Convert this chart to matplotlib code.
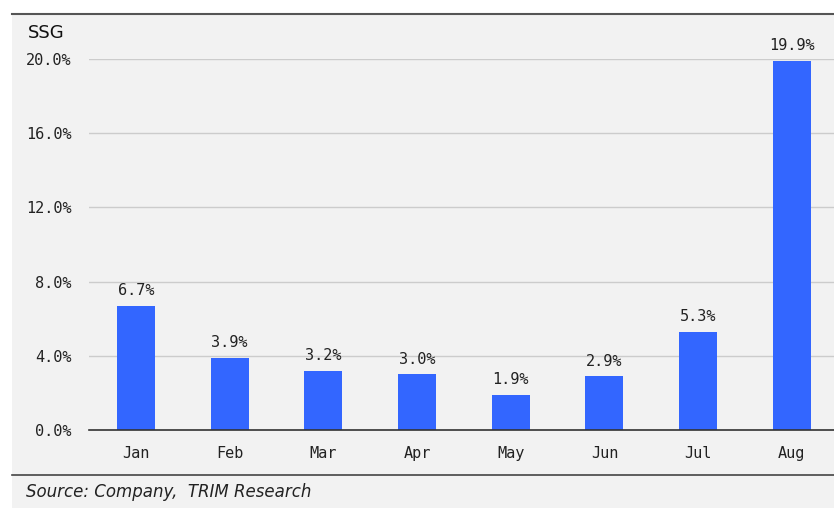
import matplotlib
matplotlib.use("Agg")
import matplotlib.pyplot as plt
import matplotlib.patches as phs
import matplotlib.lines as lin

months = ["Jan", "Feb", "Mar", "Apr", "May", "Jun", "Jul", "Aug"]
ssg = [6.7, 3.9, 3.2, 3.0, 1.9, 2.9, 5.3, 19.9]
yticks = [0, 4, 8, 12, 16, 20]

W, H = 834, 508
fig = plt.figure(figsize=(W/100, H/100), dpi=100)
fig.patch.set_facecolor("white")

# gray panel + frame lines
panel = phs.Rectangle((12/W, 0), 1 - 12/W, (H-14)/H, transform=fig.transFigure,
                      facecolor="#f2f2f2", edgecolor="none", zorder=-10)
fig.patches.append(panel)
fig.lines.append(lin.Line2D([12/W, 1], [(H-14)/H, (H-14)/H], transform=fig.transFigure, color="#555555", lw=1.5))
fig.lines.append(lin.Line2D([12/W, 1], [(H-475)/H, (H-475)/H], transform=fig.transFigure, color="#444444", lw=1.2))

ax = fig.add_axes([89/W, (H-430)/H, 1 - 89/W, (430-59)/H])
ax.set_zorder(5)
ax.set_facecolor("none")
x = list(range(len(months)))
ax.bar(x, ssg, width=0.405, color="#3366ff", zorder=3)
for xi, v in zip(x, ssg):
  ax.text(xi, v + 0.4, "%.1f%%" % v, ha="center", va="bottom", fontsize=11,
          family="DejaVu Sans Mono", color="#222222", clip_on=False)

ax.set_xlim(-0.5, 7.45)
ax.set_ylim(0, 20)
ax.set_yticks(yticks)
ax.set_yticklabels(["%.1f%%" % t for t in yticks])
ax.set_xticks(x)
ax.set_xticklabels(months)
for lab in ax.get_xticklabels() + ax.get_yticklabels():
  lab.set_family("DejaVu Sans Mono")
  lab.set_fontsize(11)
  lab.set_color("#222222")
ax.tick_params(axis="y", length=0, pad=12.5)
ax.tick_params(axis="x", length=0, pad=11.5)
ax.yaxis.grid(True, color="#cccccc", lw=1, zorder=0)
ax.set_axisbelow(True)
for s in ["top", "right", "left"]:
  ax.spines[s].set_visible(False)
ax.spines["bottom"].set_color("#333333")
ax.spines["bottom"].set_linewidth(1.2)
ax.spines["bottom"].set_zorder(4)

fig.text(28/W, (H-33)/H, "SSG", fontsize=13, family="DejaVu Sans", color="#111111", va="center")
fig.text(26/W, (H-492)/H, "Source: Company,  TRIM Research", fontsize=12, style="italic",
         family="DejaVu Sans", color="#222222", va="center")

fig.savefig("out.png", dpi=100)
